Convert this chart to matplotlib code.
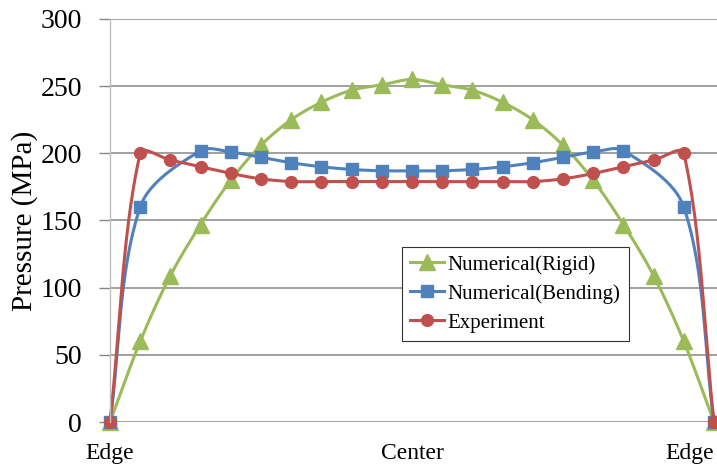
import numpy as np
import matplotlib
matplotlib.use("Agg")
import matplotlib.pyplot as plt

# ---- data ----
x_rigid = list(range(21))
rigid = [0, 60, 109, 147, 180, 206, 225, 238, 247, 251, 255, 251, 247, 238, 225, 206, 180, 147, 109, 60, 0]

x_bend = [0, 1, 3, 4, 5, 6, 7, 8, 9, 10, 11, 12, 13, 14, 15, 16, 17, 19, 20]
bend = [0, 160, 202, 201, 197, 193, 190, 188, 187, 187, 187, 188, 190, 193, 197, 201, 202, 160, 0]

x_exp = list(range(21))
exp = [0, 200, 195, 190, 185, 181, 179, 179, 179, 179, 179, 179, 179, 179, 179, 181, 185, 190, 195, 200, 0]

labels = ["Numerical(Rigid)", "Numerical(Bending)", "Experiment"]
xtick_pos = [0, 10, 20]
xtick_labels = ["Edge", "Center", "Edge"]
yticks = [0, 50, 100, 150, 200, 250, 300]

GREEN = "#9BBB59"
BLUE = "#4F81BD"
RED = "#C0504D"

plt.rcParams['font.family'] = ['Liberation Serif', 'DejaVu Serif']

fig = plt.figure(figsize=(7.17, 4.68), dpi=100)
W, H = 717, 468
ax = fig.add_axes([110 / W, 1 - 422 / H, 1 - 110 / W, (422 - 19) / H])
ax.set_xlim(0, 20.1)
ax.set_ylim(0, 300)


def smooth(xs, ys, n=30):
    """Excel-like smoothed line: Bezier segments in display space."""
    pts = ax.transData.transform(np.column_stack([xs, ys]).astype(float))
    m = len(pts)
    out = [pts[0]]
    t = np.linspace(0, 1, n)[1:, None]
    for i in range(m - 1):
        p0 = pts[i - 1] if i > 0 else pts[i]
        p1 = pts[i]
        p2 = pts[i + 1]
        p3 = pts[i + 2] if i + 2 < m else pts[i + 1]
        d01 = np.linalg.norm(p1 - p0)
        d12 = np.linalg.norm(p2 - p1)
        d23 = np.linalg.norm(p3 - p2)
        c1 = p1 + (p2 - p0) / 3 * (d12 / (d01 + d12) if d01 + d12 > 0 else 0)
        c2 = p2 - (p3 - p1) / 3 * (d12 / (d12 + d23) if d12 + d23 > 0 else 0)
        seg = ((1 - t) ** 3) * p1 + 3 * ((1 - t) ** 2) * t * c1 + 3 * (1 - t) * t ** 2 * c2 + t ** 3 * p2
        out.extend(seg)
    out = np.array(out)
    d = ax.transData.inverted().transform(out)
    return d[:, 0], d[:, 1]


for xs, ys, col, mk, ms, lab in [
    (x_rigid, rigid, GREEN, '^', 11, labels[0]),
    (x_bend, bend, BLUE, 's', 8, labels[1]),
    (x_exp, exp, RED, 'o', 8.5, labels[2]),
]:
    sx, sy = smooth(xs, ys)
    ax.plot(sx, sy, color=col, lw=2.2, clip_on=False, solid_capstyle='round')
    ax.plot(xs, ys, linestyle='none', marker=mk, ms=ms, color=col, clip_on=False)
    ax.plot([], [], color=col, lw=2.2, marker=mk, ms=ms, label=lab)

ax.set_yticks(yticks)
ax.set_xticks(xtick_pos)
ax.set_xticklabels(xtick_labels)
for lbl in ax.get_xticklabels():
    lbl.set_fontsize(17)
ax.get_xticklabels()[-1].set_horizontalalignment('right')
ax.tick_params(axis='x', length=0, pad=15)
ax.tick_params(axis='y', labelsize=20, length=8, width=1, color='#868686', pad=12)
ax.grid(axis='y', color='#868686', lw=1.1)
ax.set_axisbelow(True)
for s in ['top', 'right', 'bottom']:
    ax.spines[s].set_visible(False)
ax.spines['left'].set_color('#BFBFBF')
ax.spines['left'].set_linewidth(1.0)
ax.set_ylabel("Pressure (MPa)", fontsize=21, labelpad=2)

leg = ax.legend(loc='lower left', bbox_to_anchor=(402 / W, 1 - 341 / H),
                bbox_transform=fig.transFigure, fontsize=15, frameon=True,
                fancybox=False, edgecolor='#333333', framealpha=1,
                borderaxespad=0, handlelength=1.6, handletextpad=0.2,
                labelspacing=0.45, borderpad=0.4)
leg.get_frame().set_linewidth(0.8)

fig.savefig("out.png", dpi=100)
